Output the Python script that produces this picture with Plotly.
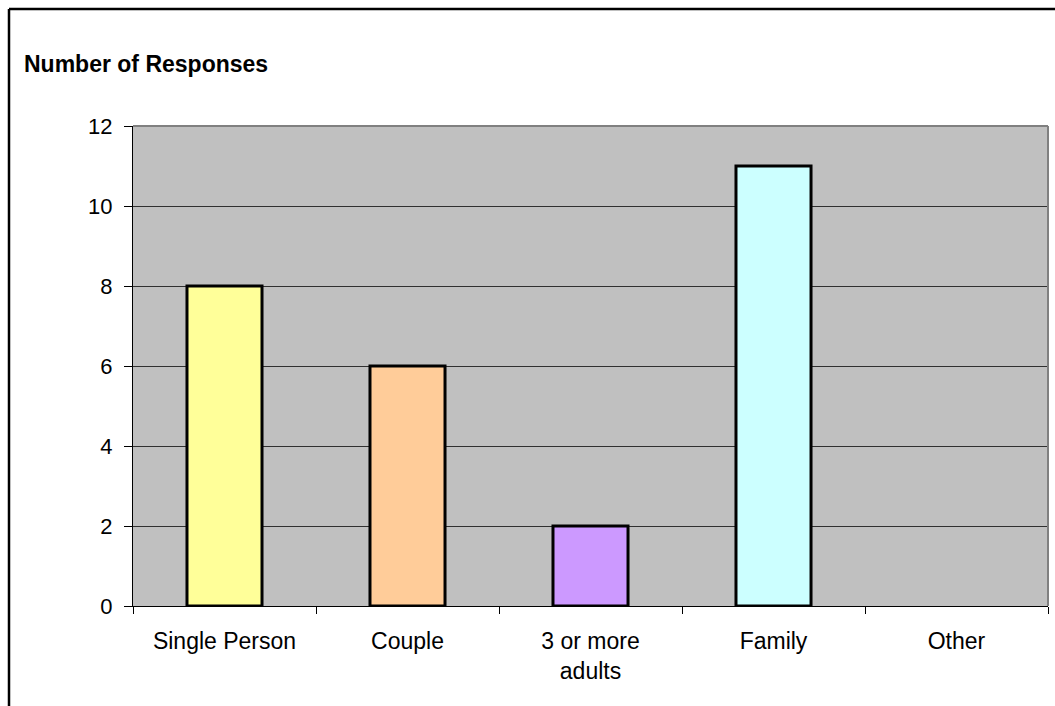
import plotly.graph_objects as go

# Household type survey: number of responses per category
categories = ["Single Person", "Couple", "3 or more<br>adults", "Family", "Other"]
responses = [8, 6, 2, 11, 0]
bar_colors = ["#FFFF99", "#FFCC99", "#CC99FF", "#CCFFFF", "#CCFFFF"]
y_ticks = [0, 2, 4, 6, 8, 10, 12]

W, H = 1055, 706
L, R, T, B = 133, 7, 126, 100
PW, PH = W - L - R, H - T - B


def px_x(x):
    return (x - L) / PW


def px_y(y):
    return (H - B - y) / PH


FONT = "Arial, Liberation Sans, sans-serif"

# empty categories get no outline so nothing is drawn on the baseline
outline_widths = [3 if v > 0 else 0 for v in responses]

fig = go.Figure(
    go.Bar(
        x=categories,
        y=responses,
        width=0.41,
        marker=dict(color=bar_colors,
                    line=dict(color="#000000", width=outline_widths)),
        hoverinfo="x+y",
    )
)

fig.update_layout(
    width=W,
    height=H,
    margin=dict(l=L, r=R, t=T, b=B, pad=0),
    paper_bgcolor="#FFFFFF",
    plot_bgcolor="#C0C0C0",
    showlegend=False,
    font=dict(family=FONT, size=22, color="#000000"),
    annotations=[
        dict(
            text="<b>Number of Responses</b>",
            xref="paper", yref="paper",
            x=px_x(22), y=px_y(64),
            xanchor="left", yanchor="middle",
            showarrow=False,
            font=dict(family=FONT, size=23, color="#000000"),
        )
    ],
    shapes=[
        # outer chart frame (top and left edges)
        dict(type="line", xref="paper", yref="paper",
             x0=px_x(9), x1=px_x(W + 5), y0=px_y(9), y1=px_y(9),
             line=dict(color="#000000", width=2.5)),
        dict(type="line", xref="paper", yref="paper",
             x0=px_x(9), x1=px_x(9), y0=px_y(9), y1=px_y(H + 5),
             line=dict(color="#000000", width=2.5)),
        # plot-area frame
        dict(type="line", xref="paper", yref="paper",
             x0=0, x1=1, y0=1, y1=1,
             line=dict(color="#808080", width=2)),
        dict(type="line", xref="paper", yref="paper",
             x0=1, x1=1, y0=0, y1=1,
             line=dict(color="#808080", width=2)),
    ],
)

fig.update_xaxes(
    type="category",
    tickson="boundaries",
    ticks="outside",
    ticklen=7,
    tickcolor="#000000",
    showline=True,
    linecolor="#000000",
    linewidth=1,
    showgrid=False,
    tickfont=dict(family=FONT, size=23, color="#000000"),
    ticklabelstandoff=14,
    fixedrange=True,
)

fig.update_yaxes(
    range=[0, 12],
    tickvals=y_ticks,
    ticks="outside",
    ticklen=8,
    tickcolor="#000000",
    showline=True,
    linecolor="#000000",
    linewidth=1,
    showgrid=True,
    gridcolor="#303030",
    gridwidth=1,
    zeroline=False,
    tickfont=dict(family=FONT, size=22, color="#000000"),
    ticklabelstandoff=7,
    fixedrange=True,
)

fig.write_html("out.html")
